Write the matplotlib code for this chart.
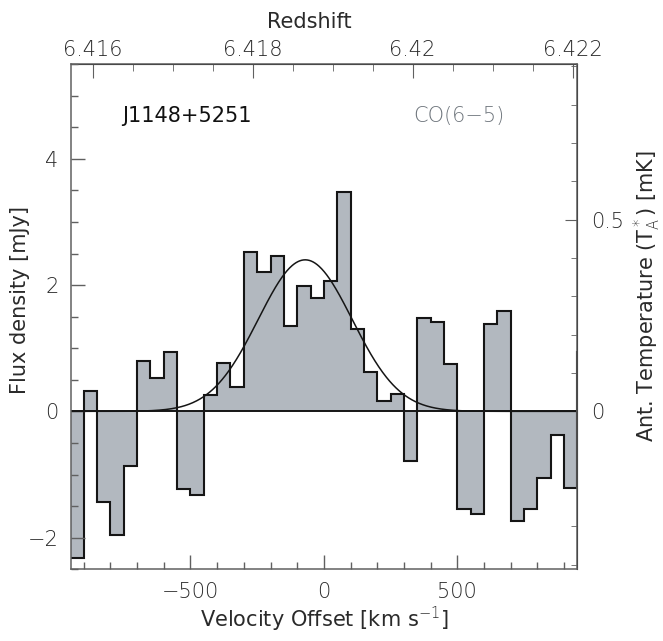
import numpy as np
import matplotlib
matplotlib.use("Agg")
import matplotlib.pyplot as plt
from matplotlib.ticker import MultipleLocator

plt.rcParams['font.family'] = ['DejaVu Sans']
plt.rcParams['font.weight'] = 'light'
plt.rcParams['mathtext.fontset'] = 'custom'
plt.rcParams['mathtext.rm'] = 'DejaVu Sans:light'
plt.rcParams['mathtext.it'] = 'DejaVu Sans:light'

# channel edges [km/s] and flux densities [mJy]
bin_edges = np.arange(-1000, 1001, 50)
flux = [-1.17, -2.33, 0.32, -1.44, -1.96, -0.86, 0.80, 0.53, 0.94, -1.23,
        -1.33, 0.26, 0.76, 0.39, 2.53, 2.20, 2.46, 1.35, 1.98, 1.79,
        2.06, 3.47, 1.31, 0.62, 0.17, 0.27, -0.79, 1.48, 1.42, 0.75,
        -1.54, -1.63, 1.39, 1.59, -1.73, -1.54, -1.05, -0.38, -1.21, 0.94]

# gaussian fit parameters
fit_peak = 2.40      # mJy
fit_center = -70.0   # km/s
fit_fwhm = 415.0     # km/s

# axis conversions
z0 = 6.41889           # redshift at zero velocity
c_kms = 299792.458
mjy_per_mk = 6.07

FS = 15
tick_col = '#606060'
txt_col = '#2a2a2a'

fig = plt.figure(figsize=(6.63, 6.41), dpi=100)
ax = fig.add_axes([0.107, 0.112, 0.763, 0.788])

fill_col = '#b2b8bf'
ax.stairs(flux, bin_edges, baseline=0, fill=True, color=fill_col, lw=0)
ax.stairs(flux, bin_edges, baseline=None, color='#151515', lw=1.5)
ax.axhline(0, color='#151515', lw=1.4)

v = np.linspace(-960, 960, 800)
sig = fit_fwhm / (2 * np.sqrt(2 * np.log(2)))
ax.plot(v, fit_peak * np.exp(-0.5 * ((v - fit_center) / sig) ** 2),
        color='#151515', lw=1.1)

ax.set_xlim(-948, 948)
ax.set_ylim(-2.5, 5.5)

ax.xaxis.set_major_locator(MultipleLocator(500))
ax.xaxis.set_minor_locator(MultipleLocator(100))
ax.yaxis.set_major_locator(MultipleLocator(2))
ax.yaxis.set_minor_locator(MultipleLocator(0.5))
ax.tick_params(which='both', direction='in', colors=tick_col, labelcolor=txt_col,
               labelsize=FS)
ax.tick_params(which='major', length=10, width=1)
ax.tick_params(which='minor', length=5, width=1)
ax.tick_params(axis='y', pad=9)
ax.tick_params(axis='x', pad=9)
ax.tick_params(top=False, right=False)
for s in ax.spines.values():
    s.set_color(tick_col)
    s.set_linewidth(1.1)

ax.set_xlabel('Velocity Offset [km s$^{-1}$]', fontsize=FS, color=txt_col, labelpad=2)
ax.set_ylabel('Flux density [mJy]', fontsize=FS, color=txt_col)
ax.yaxis.set_label_coords(-0.081, 0.533)

# top axis: redshift
top = ax.secondary_xaxis('top', functions=(lambda x: z0 + x / c_kms,
                                           lambda z: (z - z0) * c_kms))
top.set_xticks([6.416, 6.418, 6.42, 6.422])
top.set_xticklabels(['6.416', '6.418', '6.42', '6.422'])
top.xaxis.set_minor_locator(MultipleLocator(0.0005))
top.tick_params(which='both', direction='in', colors=tick_col, labelcolor=txt_col,
                labelsize=FS, pad=3)
top.tick_params(which='major', length=10)
top.tick_params(which='minor', length=5)
top.set_xlabel('Redshift', fontsize=FS, color=txt_col)
top.xaxis.set_label_coords(0.466, 0.956, transform=fig.transFigure)

# right axis: antenna temperature
right = ax.secondary_yaxis('right', functions=(lambda y: y / mjy_per_mk,
                                               lambda t: t * mjy_per_mk))
right.set_yticks([0, 0.5])
right.set_yticklabels(['0', '0.5'])
right.yaxis.set_minor_locator(MultipleLocator(0.1))
right.tick_params(which='both', direction='in', colors=tick_col, labelcolor=txt_col,
                  labelsize=FS, pad=10)
right.tick_params(which='major', length=9)
right.tick_params(which='minor', length=4)
right.set_ylabel('Ant. Temperature (T$_A^*$) [mK]', fontsize=FS, color=txt_col)
right.yaxis.set_label_coords(0.953, 0.538, transform=fig.transFigure)

ax.text(0.101, 0.886, 'J1148+5251', transform=ax.transAxes, fontsize=FS,
        color='#111111', va='baseline', fontweight='normal')
ax.text(0.676, 0.886, 'CO(6\u22125)', transform=ax.transAxes, fontsize=FS,
        color='#6e757c', va='baseline')

fig.savefig('out.png', dpi=100)
